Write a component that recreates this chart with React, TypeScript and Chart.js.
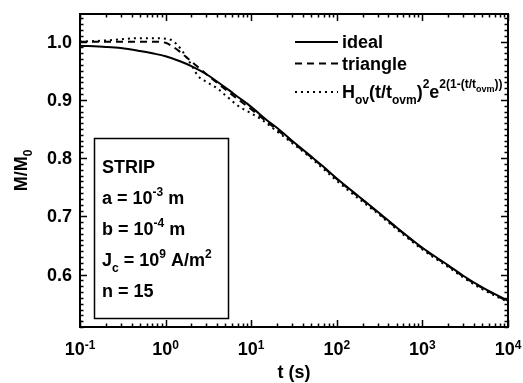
import { useEffect, useRef } from 'react';
import { Chart, registerables } from 'chart.js';

Chart.register(...registerables);

// ---- data ----
const tIdeal = [0.1, 0.2, 0.3, 0.5, 0.7, 1, 1.5, 2, 3, 5, 7, 10, 15, 20, 30, 50, 70, 100, 200, 300, 500, 1000, 2000, 3000, 5000, 10000];
const mIdeal = [0.993, 0.991, 0.989, 0.984, 0.98, 0.975, 0.966, 0.958, 0.944, 0.921, 0.905, 0.888, 0.866, 0.852, 0.83, 0.803, 0.785, 0.765, 0.729, 0.708, 0.681, 0.646, 0.616, 0.598, 0.578, 0.555];

const tTriangle = [0.1, 0.3, 0.5, 0.8, 1, 1.2, 1.4, 1.7, 2, 2.5, 3, 5, 7, 10, 15, 20, 30, 50, 70, 100, 200, 300, 500, 1000, 2000, 3000, 5000, 10000];
const mTriangle = [1.0, 1.0, 1.0, 1.0, 0.998, 0.992, 0.985, 0.975, 0.966, 0.954, 0.944, 0.918, 0.901, 0.884, 0.863, 0.849, 0.828, 0.802, 0.784, 0.764, 0.728, 0.707, 0.68, 0.645, 0.615, 0.597, 0.577, 0.554];

const tFormula = [0.1, 0.2, 0.3, 0.5, 0.7, 1, 1.2, 1.4, 1.6, 2, 2.4, 3, 4, 5, 7, 10, 13, 20, 30, 50, 100, 200, 300, 500, 1000, 2000, 3000, 5000, 10000];
const mFormula = [1.0, 1.002, 1.004, 1.006, 1.006, 1.005, 1.002, 0.993, 0.982, 0.96, 0.941, 0.931, 0.92, 0.908, 0.89, 0.877, 0.867, 0.846, 0.826, 0.8, 0.761, 0.725, 0.705, 0.678, 0.643, 0.613, 0.595, 0.575, 0.553];

const xMin = 0.1;
const xMax = 10000;
const yMin = 0.51;
const yMax = 1.0475;

const xTickValues = [0.1, 1, 10, 100, 1000, 10000];
const xTickExponents = ['-1', '0', '1', '2', '3', '4'];
const yTickValues = [0.6, 0.7, 0.8, 0.9, 1.0];
const yTickLabels = ['0.6', '0.7', '0.8', '0.9', '1.0'];

type Seg = [string, 'n' | 'sup' | 'sub' | 'supsub'];

const legendEntries: { dash: number[]; segs: Seg[] }[] = [
  { dash: [], segs: [['ideal', 'n']] },
  { dash: [7, 5], segs: [['triangle', 'n']] },
  {
    dash: [2, 4],
    segs: [
      ['H', 'n'], ['ov', 'sub'], ['(t/t', 'n'], ['ovm', 'sub'], [')', 'n'], ['2', 'sup'],
      ['e', 'n'], ['2(1-(t/t', 'sup'], ['ovm', 'supsub'], ['))', 'sup'],
    ],
  },
];

const infoLines: Seg[][] = [
  [['STRIP', 'n']],
  [['a = 10', 'n'], ['-3', 'sup'], [' m', 'n']],
  [['b = 10', 'n'], ['-4', 'sup'], [' m', 'n']],
  [['J', 'n'], ['c', 'sub'], [' = 10', 'n'], ['9', 'sup'], [' A/m', 'n'], ['2', 'sup']],
  [['n = 15', 'n']],
];

const xTitle = 't (s)';
const yTitleSegs: Seg[] = [['M/M', 'n'], ['0', 'sub']];

const FAMILY = '"Liberation Sans", Arial, Helvetica, sans-serif';

type Style = { n: number; sup: number; sub: number; supsub: number; supDy: number; subDy: number; supsubDy: number };

function drawRich(
  ctx: CanvasRenderingContext2D,
  segs: Seg[],
  x: number,
  y: number,
  align: 'left' | 'center',
  st: Style
) {
  const sizeOf = (k: Seg[1]) => (k === 'n' ? st.n : k === 'sup' ? st.sup : k === 'sub' ? st.sub : st.supsub);
  const dyOf = (k: Seg[1]) => (k === 'n' ? 0 : k === 'sup' ? st.supDy : k === 'sub' ? st.subDy : st.supsubDy);
  const widths = segs.map(([t, k]) => {
    ctx.font = `bold ${sizeOf(k)}px ${FAMILY}`;
    return ctx.measureText(t).width;
  });
  const total = widths.reduce((a, b) => a + b, 0);
  let cx = align === 'center' ? x - total / 2 : x;
  ctx.textAlign = 'left';
  ctx.textBaseline = 'alphabetic';
  segs.forEach(([t, k], i) => {
    ctx.font = `bold ${sizeOf(k)}px ${FAMILY}`;
    ctx.fillText(t, cx, y + dyOf(k));
    cx += widths[i];
  });
}

const decorPlugin = {
  id: 'decor',
  afterDraw(chart: any) {
    const ctx: CanvasRenderingContext2D = chart.ctx;
    const { left, right, top, bottom } = chart.chartArea;
    const xs = chart.scales.x;
    const ys = chart.scales.y;
    ctx.save();
    ctx.fillStyle = '#000';
    ctx.strokeStyle = '#000';

    // frame
    ctx.lineWidth = 2;
    ctx.setLineDash([]);
    ctx.strokeRect(left, top, right - left, bottom - top);

    // y ticks (left & right, inward)
    ctx.lineWidth = 1.5;
    for (let i = Math.ceil(yMin * 100); i <= Math.floor(yMax * 100); i++) {
      const v = i / 100;
      const py = Math.round(ys.getPixelForValue(v)) + 0.5;
      const len = i % 10 === 0 ? 7 : 3.5;
      ctx.beginPath();
      ctx.moveTo(left, py);
      ctx.lineTo(left + len, py);
      ctx.moveTo(right, py);
      ctx.lineTo(right - len, py);
      ctx.stroke();
    }
    // x ticks (bottom & top, inward)
    for (let d = -1; d <= 4; d++) {
      for (let m = 1; m <= 9; m++) {
        const v = m * Math.pow(10, d);
        if (v < xMin * 0.999 || v > xMax * 1.001) continue;
        const px = Math.round(xs.getPixelForValue(v)) + 0.5;
        const len = m === 1 ? 7 : 3.5;
        ctx.beginPath();
        ctx.moveTo(px, bottom);
        ctx.lineTo(px, bottom - len);
        ctx.moveTo(px, top);
        ctx.lineTo(px, top + len);
        ctx.stroke();
      }
    }

    // y tick labels
    ctx.font = `bold 18px ${FAMILY}`;
    ctx.textAlign = 'right';
    ctx.textBaseline = 'middle';
    yTickValues.forEach((v, i) => {
      ctx.fillText(yTickLabels[i], left - 8, ys.getPixelForValue(v) + 1);
    });

    // x tick labels
    const tickStyle: Style = { n: 18, sup: 12, sub: 12, supsub: 9, supDy: -6, subDy: 6, supsubDy: -3 };
    xTickValues.forEach((v, i) => {
      drawRich(ctx, [['10', 'n'], [xTickExponents[i], 'sup']], xs.getPixelForValue(v), bottom + 28, 'center', tickStyle);
    });

    // axis titles
    ctx.font = `bold 18px ${FAMILY}`;
    ctx.textAlign = 'center';
    ctx.textBaseline = 'alphabetic';
    ctx.fillText(xTitle, (left + right) / 2, bottom + 51);

    ctx.save();
    ctx.translate(27, (top + bottom) / 2);
    ctx.rotate(-Math.PI / 2);
    drawRich(ctx, yTitleSegs, 0, 0, 'center', { n: 18, sup: 12, sub: 12, supsub: 9, supDy: -8, subDy: 5, supsubDy: -4 });
    ctx.restore();

    // legend
    const legStyle: Style = { n: 18, sup: 12, sub: 12, supsub: 9, supDy: -10, subDy: 6, supsubDy: -6 };
    const legLineX0 = right - 213;
    const legLineX1 = right - 170;
    const legTextX = right - 166;
    const legBase = [top + 34, top + 56, top + 84];
    const legLineY = [top + 28, top + 49.5, top + 78];
    legendEntries.forEach((e, i) => {
      ctx.lineWidth = 2;
      ctx.setLineDash(e.dash);
      ctx.beginPath();
      ctx.moveTo(legLineX0, legLineY[i]);
      ctx.lineTo(legLineX1, legLineY[i]);
      ctx.stroke();
      ctx.setLineDash([]);
      drawRich(ctx, e.segs, legTextX, legBase[i], 'left', legStyle);
    });

    // info box
    const bx0 = left + 14;
    const by0 = top + 124;
    const bx1 = left + 148;
    const by1 = bottom - 9;
    ctx.lineWidth = 1.5;
    ctx.strokeRect(bx0 + 0.5, by0 + 0.5, bx1 - bx0, by1 - by0);
    const boxStyle: Style = { n: 18, sup: 12, sub: 12, supsub: 9, supDy: -8, subDy: 6, supsubDy: -4 };
    infoLines.forEach((segs, i) => {
      drawRich(ctx, segs, bx0 + 8, by0 + 35 + i * 31, 'left', boxStyle);
    });

    ctx.restore();
  },
};

export default function App() {
  const ref = useRef<HTMLCanvasElement | null>(null);
  useEffect(() => {
    if (!ref.current) return;
    const mk = (t: number[], m: number[]) => t.map((x, i) => ({ x, y: m[i] }));
    const chart = new Chart(ref.current, {
      type: 'line',
      data: {
        datasets: [
          {
            label: 'ideal',
            data: mk(tIdeal, mIdeal),
            borderColor: '#000',
            borderWidth: 2,
            pointRadius: 0,
            cubicInterpolationMode: 'monotone',
            fill: false,
          },
          {
            label: 'triangle',
            data: mk(tTriangle, mTriangle),
            borderColor: '#000',
            borderWidth: 2,
            borderDash: [7, 5],
            pointRadius: 0,
            cubicInterpolationMode: 'monotone',
            fill: false,
          },
          {
            label: 'formula',
            data: mk(tFormula, mFormula),
            borderColor: '#000',
            borderWidth: 2,
            borderDash: [2, 4],
            pointRadius: 0,
            cubicInterpolationMode: 'monotone',
            fill: false,
          },
        ],
      },
      options: {
        responsive: false,
        animation: false,
        layout: { padding: { left: 80, top: 14, right: 15, bottom: 56 } },
        scales: {
          x: { type: 'logarithmic', min: xMin, max: xMax, display: false },
          y: { type: 'linear', min: yMin, max: yMax, display: false },
        },
        plugins: { legend: { display: false }, tooltip: { enabled: false } },
      },
      plugins: [decorPlugin],
    });
    return () => chart.destroy();
  }, []);
  return (
    <div style={{ position: 'absolute', left: 0, top: 0, width: 523, height: 383, background: '#fff' }}>
      <canvas ref={ref} width={523} height={383} style={{ display: 'block' }} />
    </div>
  );
}
